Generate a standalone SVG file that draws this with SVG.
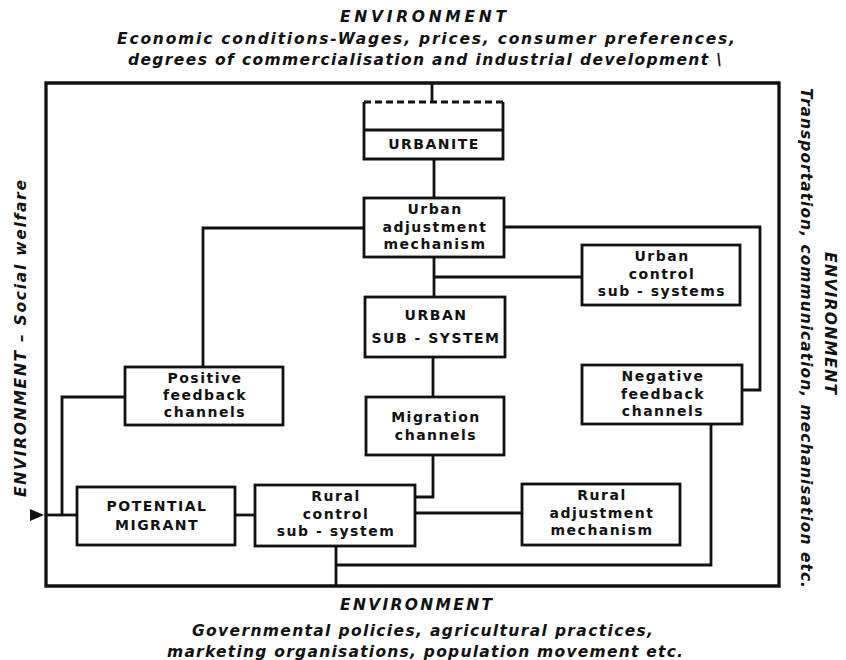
<svg xmlns="http://www.w3.org/2000/svg" width="846" height="660" viewBox="0 0 846 660">
<style>
.bg{fill:#fff}
.box{fill:#fff;stroke:#111;stroke-width:2.8}
.ln{fill:none;stroke:#111;stroke-width:2.8;stroke-linejoin:miter}
.frame{fill:none;stroke:#111;stroke-width:3.3}
.t{font-family:"DejaVu Sans","Liberation Sans",Arial,sans-serif;font-weight:bold;font-size:14px;letter-spacing:1.5px;text-anchor:middle;fill:#111}
.e{font-family:"DejaVu Sans","Liberation Sans",Arial,sans-serif;font-weight:bold;font-style:italic;font-size:15.5px;fill:#111}
</style>
<rect class="bg" x="0" y="0" width="846" height="660"/>

<g id="environment-labels">
<text class="e" x="340" y="22" textLength="166" lengthAdjust="spacing">ENVIRONMENT</text>
<text class="e" x="117" y="44" textLength="618" lengthAdjust="spacing">Economic conditions-Wages, prices, consumer preferences,</text>
<text class="e" x="128" y="65" textLength="594" lengthAdjust="spacing">degrees of commercialisation and industrial development \</text>
<text class="e" x="340" y="610" textLength="152" lengthAdjust="spacing">ENVIRONMENT</text>
<text class="e" x="192" y="636" textLength="461" lengthAdjust="spacing">Governmental policies, agricultural practices,</text>
<text class="e" x="167" y="657" textLength="516" lengthAdjust="spacing">marketing organisations, population movement etc.</text>
<text class="e" transform="translate(26,497) rotate(-90)" textLength="317" lengthAdjust="spacing">ENVIRONMENT – Social welfare</text>
<text class="e" transform="translate(801,88) rotate(90)" textLength="500" lengthAdjust="spacing">Transportation, communication, mechanisation etc.</text>
<text class="e" transform="translate(825,252) rotate(90)" textLength="142" lengthAdjust="spacing">ENVIRONMENT</text>
</g>

<g id="connectors">
<path class="frame" d="M46,83 H779 V586 H46 Z"/>
<path class="ln" d="M432,83 V102"/>
<path class="ln" d="M434,159 V198"/>
<path class="ln" d="M434,257 V297"/>
<path class="ln" d="M434,277 H582"/>
<path class="ln" d="M433,357 V397"/>
<path class="ln" d="M433,455 V497 H415"/>
<path class="ln" d="M415,513 H522"/>
<path class="ln" d="M235,515 H255"/>
<path class="ln" d="M364,228 H203 V367"/>
<path class="ln" d="M125,397 H62 V515"/>
<path class="ln" d="M77,515 H46"/>
<path class="ln" d="M504,227 H760 V390 H742"/>
<path class="ln" d="M711,424 V565 H336"/>
<path class="ln" d="M336,546 V586"/>
<path d="M30,509 L44,515 L30,521 Z" fill="#111"/>
</g>

<g id="urbanite">
<path class="box" d="M364,102 V159 H503 V102" />
<path class="ln" d="M364,102 H503" stroke-dasharray="7,4"/>
<path class="ln" d="M364,130 H503"/>
<text class="t" x="434" y="149">URBANITE</text>
</g>

<g id="urban-adjustment-mechanism">
<rect class="box" x="364" y="198" width="140" height="59"/>
<text class="t" x="435" y="214">Urban</text>
<text class="t" x="435" y="231.5">adjustment</text>
<text class="t" x="435" y="249">mechanism</text>
</g>

<g id="urban-control-sub-systems">
<rect class="box" x="582" y="245" width="158" height="60"/>
<text class="t" x="662" y="261">Urban</text>
<text class="t" x="662" y="278.5">control</text>
<text class="t" x="662" y="296">sub - systems</text>
</g>

<g id="urban-sub-system">
<rect class="box" x="365" y="297" width="140" height="60"/>
<text class="t" x="436" y="320">URBAN</text>
<text class="t" x="436" y="342.5">SUB - SYSTEM</text>
</g>

<g id="positive-feedback-channels">
<rect class="box" x="125" y="367" width="158" height="58"/>
<text class="t" x="205" y="383">Positive</text>
<text class="t" x="205" y="400">feedback</text>
<text class="t" x="205" y="417">channels</text>
</g>

<g id="negative-feedback-channels">
<rect class="box" x="582" y="365" width="160" height="59"/>
<text class="t" x="663" y="381">Negative</text>
<text class="t" x="663" y="398.5">feedback</text>
<text class="t" x="663" y="416">channels</text>
</g>

<g id="migration-channels">
<rect class="box" x="366" y="397" width="138" height="58"/>
<text class="t" x="436" y="422">Migration</text>
<text class="t" x="436" y="440">channels</text>
</g>

<g id="potential-migrant">
<rect class="box" x="77" y="487" width="158" height="58"/>
<text class="t" x="157" y="511">POTENTIAL</text>
<text class="t" x="157" y="530">MIGRANT</text>
</g>

<g id="rural-control-sub-system">
<rect class="box" x="255" y="485" width="160" height="61"/>
<text class="t" x="336" y="501">Rural</text>
<text class="t" x="336" y="518.5">control</text>
<text class="t" x="336" y="536">sub - system</text>
</g>

<g id="rural-adjustment-mechanism">
<rect class="box" x="522" y="484" width="158" height="61"/>
<text class="t" x="602" y="500">Rural</text>
<text class="t" x="602" y="517.5">adjustment</text>
<text class="t" x="602" y="535">mechanism</text>
</g>
</svg>
